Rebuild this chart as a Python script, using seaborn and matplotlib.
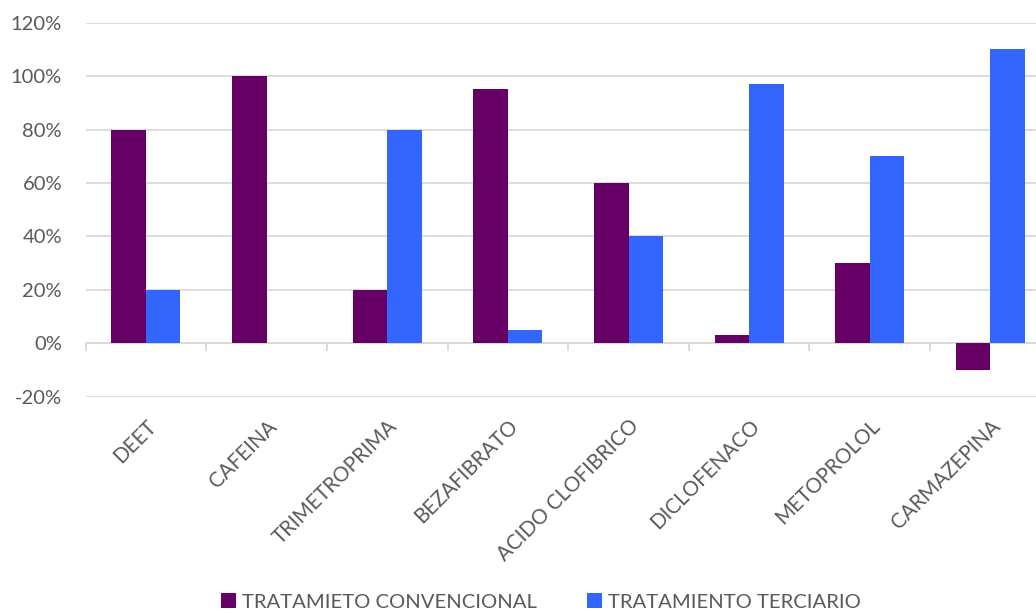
import numpy as np
import pandas as pd
import matplotlib
matplotlib.use("Agg")
import matplotlib.pyplot as plt
from matplotlib.patches import Patch
from matplotlib.ticker import FuncFormatter, MultipleLocator
import seaborn as sns

categories = ["DEET", "CAFEINA", "TRIMETROPRIMA", "BEZAFIBRATO", "ACIDO CLOFIBRICO",
              "DICLOFENACO", "METOPROLOL", "CARMAZEPINA"]
series_names = ["TRATAMIETO CONVENCIONAL", "TRATAMIENTO TERCIARIO"]
convencional = [80, 100, 20, 95, 60, 3, 30, -10]
terciario = [20, 0, 80, 5, 40, 97, 70, 110]
colors = ["#660066", "#3366FF"]

df = pd.DataFrame({
    "cat": categories * 2,
    "serie": [series_names[0]] * len(categories) + [series_names[1]] * len(categories),
    "val": convencional + terciario,
})

sns.set_theme(style="white")
plt.rcParams["font.family"] = ["Lato", "DejaVu Sans"]
plt.rcParams["axes.unicode_minus"] = False

TXT = "#595959"
GRID = "#d9d9d9"

fig = plt.figure(figsize=(10.36, 6.13), dpi=100)
ax = fig.add_axes([0.0827, 0.3529, 0.9315, 0.6101])

sns.barplot(data=df, x="cat", y="val", hue="serie", order=categories,
            hue_order=series_names, palette=colors, saturation=1,
            width=0.572, gap=0, linewidth=0, legend=False, ax=ax)

ymin, ymax = -20, 120
ax.set_ylim(ymin, ymax)
ax.set_xlim(-0.5, len(categories) - 0.5)
ax.yaxis.set_major_locator(MultipleLocator(20))
ax.yaxis.set_major_formatter(FuncFormatter(lambda v, p: f"{v:.0f}%"))
ax.grid(axis="y", color=GRID, linewidth=1.3)
ax.grid(axis="x", visible=False)
ax.set_axisbelow(True)
for s in ax.spines.values():
    s.set_visible(False)
ax.set_xlabel("")
ax.set_ylabel("")
ax.tick_params(axis="y", length=0, pad=17, labelsize=14.5, labelcolor=TXT)
ax.tick_params(axis="x", length=0, pad=14, labelsize=14.8, labelcolor=TXT)
ax.set_xticks(range(len(categories)))
ax.set_xticklabels(categories, rotation=45, ha="right", va="top", rotation_mode="anchor")

# zero axis line with category-boundary ticks
zero_loc = (0 - ymin) / (ymax - ymin)
sec = ax.secondary_xaxis(zero_loc)
sec.set_xticks(np.arange(-0.5, len(categories), 1.0))
sec.set_xticklabels([])
sec.tick_params(axis="x", direction="out", length=6, width=1.3, color=GRID)
sec.spines["bottom"].set_color(GRID)
sec.spines["bottom"].set_linewidth(1.3)
for k in ["top", "left", "right"]:
    if k in sec.spines:
        sec.spines[k].set_visible(False)

handles = [Patch(facecolor=c, edgecolor="none") for c in colors]
fig.legend(handles, series_names, loc="center", bbox_to_anchor=(541 / 1036, 1 - 602 / 613),
           ncol=2, frameon=False, fontsize=14.6, labelcolor=TXT, handlelength=0.7,
           handleheight=0.7, handletextpad=0.3, columnspacing=2.5)

fig.savefig("out.png", dpi=100)
